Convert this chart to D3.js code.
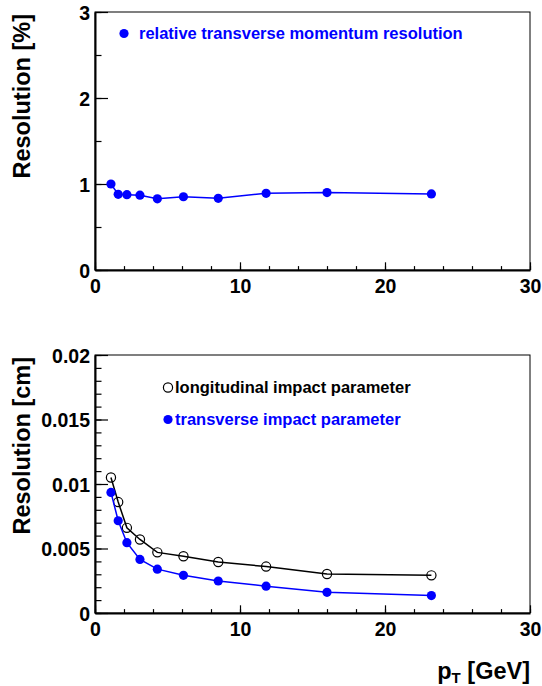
<!DOCTYPE html>
<html>
<head>
<meta charset="utf-8">
<script src="https://cdn.jsdelivr.net/npm/d3@7"></script>
<style>
  body { margin: 0; background: #fff; }
  svg text { font-family: "Liberation Sans", Arial, Helvetica, sans-serif; font-weight: bold; }
</style>
</head>
<body>
<div id="chart"></div>
<script>
// Data
const pT = [1.1, 1.6, 2.2, 3.1, 4.3, 6.1, 8.5, 11.8, 16.0, 23.2];
const momRes = [1.0, 0.88, 0.876, 0.87, 0.828, 0.852, 0.834, 0.892, 0.90, 0.885];
const longIP = [0.0105, 0.0086, 0.0066, 0.0057, 0.0047, 0.0044, 0.00395, 0.0036, 0.00302, 0.00292];
const transIP = [0.00935, 0.00715, 0.00545, 0.00415, 0.0034, 0.00292, 0.00248, 0.00208, 0.0016, 0.00135];

const xTicks = [0, 10, 20, 30];
const topYTicks = [0, 1, 2, 3];
const topYLabels = ["0", "1", "2", "3"];
const botYTicks = [0, 0.005, 0.01, 0.015, 0.02];
const botYLabels = ["0", "0.005", "0.01", "0.015", "0.02"];

const W = 542, H = 686;
const left = 95, right = 530, panelH = 258;
const blue = "#0000ff";

const svg = d3.select("#chart").append("svg")
    .attr("width", W)
    .attr("height", H);

// One ROOT-style frame with ticks pointing inward
function buildPanel(top, yMax, yTickVals, yLabels, yMinorStep, title) {
    const bottom = top + panelH;
    const x = d3.scaleLinear().domain([0, 30]).range([left, right]);
    const y = d3.scaleLinear().domain([0, yMax]).range([bottom, top]);
    const g = svg.append("g");

    g.append("rect")
        .attr("x", left).attr("y", top)
        .attr("width", right - left).attr("height", bottom - top)
        .attr("fill", "none").attr("stroke", "#000").attr("stroke-width", 1);

    // minor ticks
    g.append("g")
        .attr("transform", `translate(0,${bottom})`)
        .call(d3.axisBottom(x).tickValues(d3.range(0, 31, 2)).tickSize(-3.9).tickSizeOuter(0).tickFormat(""))
        .call(s => s.select(".domain").remove())
        .call(s => s.selectAll("line").attr("stroke-width", 1.2));
    g.append("g")
        .attr("transform", `translate(${left},0)`)
        .call(d3.axisLeft(y).tickValues(d3.range(0, yMax + yMinorStep / 2, yMinorStep)).tickSize(-6.5).tickSizeOuter(0).tickFormat(""))
        .call(s => s.select(".domain").remove())
        .call(s => s.selectAll("line").attr("stroke-width", 1.2));

    // major x axis
    g.append("g")
        .attr("transform", `translate(0,${bottom})`)
        .call(d3.axisBottom(x).tickValues(xTicks).tickSize(-7.7).tickSizeOuter(0).tickPadding(9.5).tickFormat(d3.format("d")))
        .call(s => s.select(".domain").attr("stroke-width", 2))
        .call(s => s.selectAll("line").attr("stroke-width", 1.2))
        .call(s => s.selectAll("text").attr("font-size", 19.5).attr("fill", "#000")
            .attr("font-family", null));

    // major y axis
    g.append("g")
        .attr("transform", `translate(${left},0)`)
        .call(d3.axisLeft(y).tickValues(yTickVals).tickSize(-13).tickSizeOuter(0).tickPadding(5)
            .tickFormat((d, i) => yLabels[i]))
        .call(s => s.select(".domain").attr("stroke-width", 2))
        .call(s => s.selectAll("line").attr("stroke-width", 1.2))
        .call(s => s.selectAll("text").attr("font-size", 19.5).attr("fill", "#000")
            .attr("dy", "0.38em").attr("font-family", null));

    // axis title, aligned to the top of the axis
    g.append("text")
        .attr("transform", `translate(29.5,${top + 2}) rotate(-90)`)
        .attr("text-anchor", "end")
        .attr("font-size", 23.5)
        .text(title);

    return { x, y };
}

function drawSeries(p, values, color, open) {
    const pts = pT.map((d, i) => [d, values[i]]);
    const line = d3.line().x(d => p.x(d[0])).y(d => p.y(d[1]));
    svg.append("path")
        .datum(pts)
        .attr("d", line)
        .attr("fill", "none")
        .attr("stroke", color)
        .attr("stroke-width", 1.5);
    svg.append("g")
        .selectAll("circle")
        .data(pts)
        .join("circle")
        .attr("cx", d => p.x(d[0]))
        .attr("cy", d => p.y(d[1]))
        .attr("r", 4.6)
        .attr("fill", open ? "none" : color)
        .attr("stroke", color)
        .attr("stroke-width", open ? 1.2 : 0);
}

// ==========================================
// Top panel: relative momentum resolution
// ==========================================
const topP = buildPanel(12, 3, topYTicks, topYLabels, 0.5, "Resolution [%]");
drawSeries(topP, momRes, blue, false);

svg.append("circle").attr("cx", 124).attr("cy", 33.5).attr("r", 4.6).attr("fill", blue);
svg.append("text").attr("x", 139).attr("y", 38.5)
    .attr("font-size", 16.5).attr("fill", blue)
    .text("relative transverse momentum resolution");

// ==========================================
// Bottom panel: impact parameter resolution
// ==========================================
const botP = buildPanel(355, 0.02, botYTicks, botYLabels, 0.001, "Resolution [cm]");
drawSeries(botP, longIP, "#000", true);
drawSeries(botP, transIP, blue, false);

svg.append("circle").attr("cx", 168).attr("cy", 387.5).attr("r", 4.6)
    .attr("fill", "none").attr("stroke", "#000").attr("stroke-width", 1.2);
svg.append("text").attr("x", 175).attr("y", 392.5)
    .attr("font-size", 16.5).attr("fill", "#000")
    .text("longitudinal impact parameter");
svg.append("circle").attr("cx", 168).attr("cy", 419.5).attr("r", 4.6).attr("fill", blue);
svg.append("text").attr("x", 175).attr("y", 424.5)
    .attr("font-size", 16.5).attr("fill", blue)
    .text("transverse impact parameter");

// x axis title
const xt = svg.append("text")
    .attr("x", right).attr("y", 679)
    .attr("text-anchor", "end")
    .attr("font-size", 23.5);
xt.append("tspan").text("p");
xt.append("tspan").attr("font-size", 15).attr("dy", 4).text("T");
xt.append("tspan").attr("dy", -4).text(" [GeV]");
</script>
</body>
</html>
